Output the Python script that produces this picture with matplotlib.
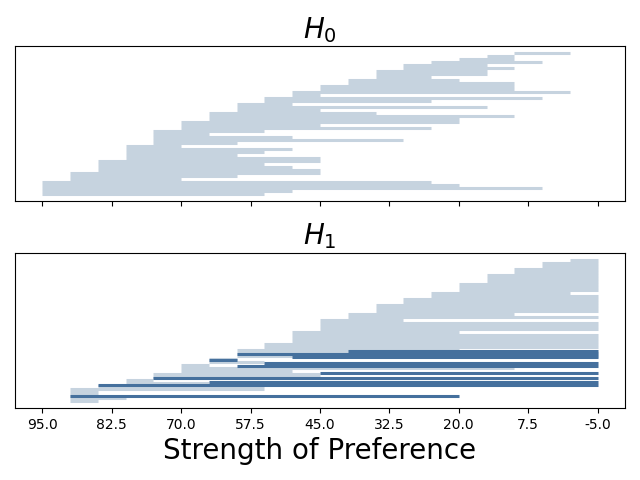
import matplotlib
matplotlib.use("Agg")
import matplotlib.pyplot as plt

# H0: lines grouped by start value, ends listed bottom -> top
h0_blocks = [
    (95, [55, 50, 5, 20, 25]),
    (90, [70, 60, 45]),
    (85, [45, 50, 55, 45]),
    (80, [45, 60, 55, 50, 70]),
    (75, [60, 30, 50, 65, 55]),
    (70, [25, 45, 20]),
    (65, [20, 10, 35]),
    (60, [45, 15, 50]),
    (55, [25, 5]),
    (50, [45, 0]),
    (45, [10, 10]),
    (40, [10, 20]),
    (35, [25, 15, 15]),
    (30, [10, 15]),
    (25, [5]),
    (20, [10]),
    (15, [10]),
    (10, [0]),
]

# H1 light lines
h1_blocks = [
    (90, [85, 80, 85, 85, 55]),
    (85, [55]),
    (80, [65, 75]),
    (75, [45, 45]),
    (70, [50, 10, 65]),
    (65, [55, 60]),
    (60, [-5, -5, 20]),
    (55, [-5, -5]),
    (50, [-5, -5, -5, 20]),
    (45, [-5, -5, -5, 30]),
    (40, [-5, 10]),
    (35, [-5, -5, -5]),
    (30, [-5, -5]),
    (25, [-5, 0]),
    (20, [-5, -5, -5]),
    (15, [-5, -5, -5]),
    (10, [-5, -5]),
    (5, [-5, -5]),
    (0, [-5]),
]

# H1 highlighted lines (row position, start, end)
h1_dark_rows = [1.8, 5.2, 6.2, 7.8, 9.2, 11.8, 12.8, 13.8, 14.8, 15.5, 16.5]
h1_dark_start = [90, 85, 65, 75, 45, 60, 55, 65, 50, 60, 40]
h1_dark_end = [20, -5, -5, -5, -5, -5, -5, 60, -5, -5, -5]

ticks = [95, 82.5, 70, 57.5, 45, 32.5, 20, 7.5, -5]
tick_labels = ['95.0', '82.5', '70.0', '57.5', '45.0', '32.5', '20.0', '7.5', '-5.0']

light = '#c6d3df'
dark = '#45709d'
lw = 2.2


def flatten(blocks):
    starts, ends = [], []
    for s, es in blocks:
        for e in es:
            starts.append(s)
            ends.append(e)
    return starts, ends


fig, (ax0, ax1) = plt.subplots(2, 1, sharex=True, figsize=(6.4, 4.8), dpi=100)

s0, e0 = flatten(h0_blocks)
ax0.hlines(range(len(s0)), s0, e0, colors=light, lw=lw)
ax0.set_title('$H_0$', fontsize=20)

s1, e1 = flatten(h1_blocks)
ax1.hlines(range(len(s1)), s1, e1, colors=light, lw=lw)
ax1.hlines(h1_dark_rows, h1_dark_start, h1_dark_end, colors=dark, lw=lw)
ax1.set_title('$H_1$', fontsize=20)

for ax in (ax0, ax1):
    ax.set_yticks([])
ax1.set_xticks(ticks)
ax1.set_xticklabels(tick_labels)
ax1.invert_xaxis()
ax1.set_xlabel('Strength of Preference', fontsize=20)

plt.subplots_adjust(left=0.023, right=0.977, top=0.904, bottom=0.15, hspace=0.335)
plt.savefig('out.png')
